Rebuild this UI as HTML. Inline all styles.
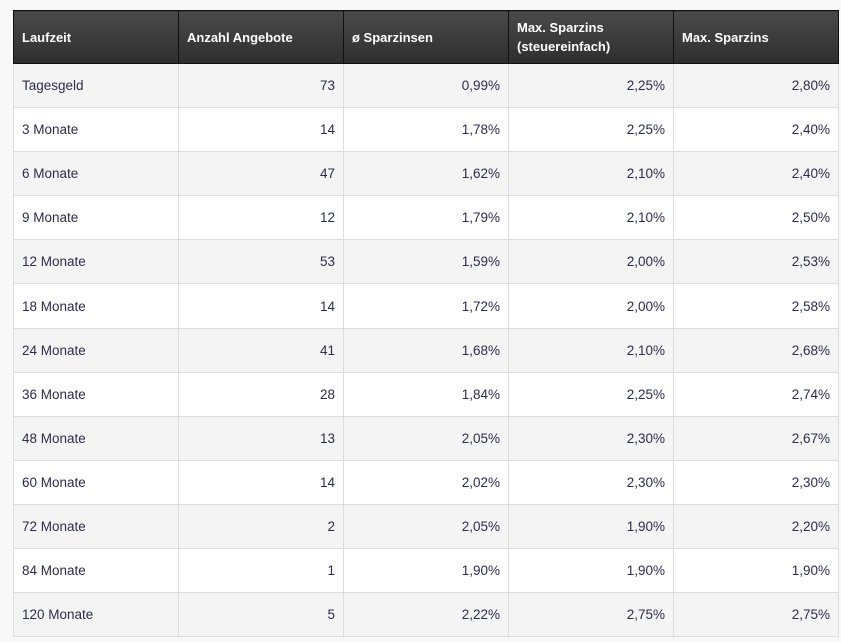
<!DOCTYPE html>
<html><head><meta charset="utf-8"><style>
html,body{margin:0;padding:0;background:#f8f8f8;width:841px;height:642px;overflow:hidden}
table{position:absolute;left:13px;top:10px;width:826px;border-collapse:collapse;table-layout:fixed;font-family:"Liberation Sans",sans-serif;font-size:13.5px;color:#2b2d4a}
th{background:linear-gradient(#4a4a4a,#2e2e2e);color:#fff;font-weight:bold;text-align:left;padding:0 8px;height:52px;border:1px solid #111;font-size:13px;line-height:19px}
td{border:1px solid #dcdcdc;padding:0 8px;height:43.1px}
td.n{text-align:right}
tr.odd td{background:#f4f4f4}
tr.even td{background:#fff}
</style></head><body>
<table>
<thead><tr>
<th>Laufzeit</th>
<th>Anzahl Angebote</th>
<th>ø Sparzinsen</th>
<th>Max. Sparzins<br>(steuereinfach)</th>
<th>Max. Sparzins</th>
</tr></thead>
<tbody id="tb"></tbody>
</table>
<script>
const terms=["Tagesgeld","3 Monate","6 Monate","9 Monate","12 Monate","18 Monate","24 Monate","36 Monate","48 Monate","60 Monate","72 Monate","84 Monate","120 Monate"];
const offers=[73,14,47,12,53,14,41,28,13,14,2,1,5];
const avgRate=["0,99%","1,78%","1,62%","1,79%","1,59%","1,72%","1,68%","1,84%","2,05%","2,02%","2,05%","1,90%","2,22%"];
const maxSimple=["2,25%","2,25%","2,10%","2,10%","2,00%","2,00%","2,10%","2,25%","2,30%","2,30%","1,90%","1,90%","2,75%"];
const maxRate=["2,80%","2,40%","2,40%","2,50%","2,53%","2,58%","2,68%","2,74%","2,67%","2,30%","2,20%","1,90%","2,75%"];
const tb=document.getElementById('tb');
terms.forEach((t,i)=>{
  const tr=document.createElement('tr');
  tr.className=i%2?'even':'odd';
  
  
  [t,offers[i],avgRate[i],maxSimple[i],maxRate[i]].forEach((v,j)=>{
    const td=document.createElement('td');
    td.textContent=v;
    if(j>0)td.className='n';
    
    
    tr.appendChild(td);
  });
  tb.appendChild(tr);
});
</script>
</body></html>
